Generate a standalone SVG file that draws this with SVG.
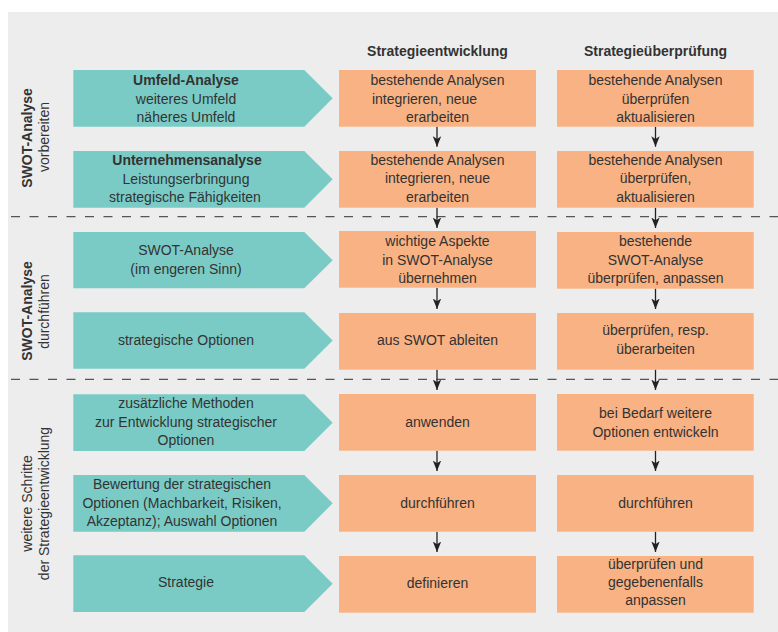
<svg xmlns="http://www.w3.org/2000/svg" width="778" height="632" viewBox="0 0 778 632">
<style>
text{font-family:"Liberation Sans",Arial,sans-serif;font-size:14px;fill:#333;text-anchor:middle}
.b{font-weight:bold}
.teal{fill:#7acbc5}
.org{fill:#f8b283}
.dash{stroke:#555;stroke-width:1.3;stroke-dasharray:9 9.5;fill:none}
.con{stroke:#222;stroke-width:1.3;fill:none;marker-end:url(#ah)}
</style>
<defs>
<marker id="ah" viewBox="0 -4.5 11 9" markerUnits="userSpaceOnUse" markerWidth="11" markerHeight="9" refX="10.5" refY="0" orient="auto">
<path d="M0,-4.2 L10.5,0 L0,4.2 L2.8,0 Z" fill="#222"/>
</marker>
</defs>
<rect x="8" y="12" width="770" height="620" fill="#ededed"/>
<g id="dividers">
<line class="dash" x1="11" y1="216.7" x2="778" y2="216.7"/>
<line class="dash" x1="11" y1="379.3" x2="778" y2="379.3"/>
</g>
<g id="headers">
<text class="b" x="437.5" y="56">Strategieentwicklung</text>
<text class="b" x="655.5" y="56">Strategieüberprüfung</text>
</g>
<g id="section-labels">
<text class="b" transform="translate(32,138) rotate(-90)">SWOT-Analyse</text>
<text transform="translate(49,137) rotate(-90)">vorbereiten</text>
<text class="b" transform="translate(32,311) rotate(-90)">SWOT-Analyse</text>
<text transform="translate(49,311.5) rotate(-90)">durchführen</text>
<text transform="translate(32,503.5) rotate(-90)">weitere Schritte</text>
<text transform="translate(49,503.5) rotate(-90)">der Strategieentwicklung</text>
</g>
<g id="connectors">
<line class="con" x1="437" y1="126.7" x2="437" y2="146.7"/>
<line class="con" x1="437" y1="207.7" x2="437" y2="228"/>
<line class="con" x1="437" y1="288" x2="437" y2="309"/>
<line class="con" x1="437" y1="369.5" x2="437" y2="390"/>
<line class="con" x1="437" y1="450.7" x2="437" y2="471"/>
<line class="con" x1="437" y1="531.7" x2="437" y2="552"/>
<line class="con" x1="655.5" y1="126.7" x2="655.5" y2="146.7"/>
<line class="con" x1="655.5" y1="207.7" x2="655.5" y2="228"/>
<line class="con" x1="655.5" y1="288.5" x2="655.5" y2="309"/>
<line class="con" x1="655.5" y1="369.5" x2="655.5" y2="390"/>
<line class="con" x1="655.5" y1="450.7" x2="655.5" y2="471"/>
<line class="con" x1="655.5" y1="531.7" x2="655.5" y2="552"/>
</g>
<g id="step1">
<polygon class="teal" points="73.3,70 304.3,70 332.7,98.3 304.3,126.7 73.3,126.7"/>
<text class="b" x="186" y="85">Umfeld-Analyse</text>
<text x="186" y="104">weiteres Umfeld</text>
<text x="186" y="122">näheres Umfeld</text>
</g>
<g id="step2">
<polygon class="teal" points="73.3,151 304.3,151 332.7,179.3 304.3,207.7 73.3,207.7"/>
<text class="b" x="187" y="165">Unternehmensanalyse</text>
<text x="186" y="183.5">Leistungserbringung</text>
<text x="185" y="202">strategische Fähigkeiten</text>
</g>
<g id="step3">
<polygon class="teal" points="73.3,232 304.3,232 332.7,260.2 304.3,288.3 73.3,288.3"/>
<text x="186" y="255">SWOT-Analyse</text>
<text x="186" y="273.5">(im engeren Sinn)</text>
</g>
<g id="step4">
<polygon class="teal" points="73.3,312.3 304.3,312.3 332.7,340.5 304.3,368.7 73.3,368.7"/>
<text x="186" y="345">strategische Optionen</text>
</g>
<g id="step5">
<polygon class="teal" points="73.3,394.3 304.3,394.3 332.7,422.7 304.3,451 73.3,451"/>
<text x="186" y="408">zusätzliche Methoden</text>
<text x="186" y="426.5">zur Entwicklung strategischer</text>
<text x="186" y="445">Optionen</text>
</g>
<g id="step6">
<polygon class="teal" points="73.3,475 304.3,475 332.7,503.3 304.3,531.7 73.3,531.7"/>
<text x="182" y="488.5">Bewertung der strategischen</text>
<text x="182" y="507.5">Optionen (Machbarkeit, Risiken,</text>
<text x="182" y="525.5">Akzeptanz); Auswahl Optionen</text>
</g>
<g id="step7">
<polygon class="teal" points="73.3,555.3 304.3,555.3 332.7,583.7 304.3,612 73.3,612"/>
<text x="186" y="587">Strategie</text>
</g>
<g id="dev1">
<rect class="org" x="339" y="70" width="197" height="56.7"/>
<text x="437.5" y="85">bestehende Analysen</text>
<text x="424.5" y="104">integrieren, neue</text>
<text x="437.5" y="122">erarbeiten</text>
</g>
<g id="dev2">
<rect class="org" x="339" y="151" width="197" height="56.7"/>
<text x="437.5" y="164.5">bestehende Analysen</text>
<text x="437.5" y="183.3">integrieren, neue</text>
<text x="437.5" y="201.7">erarbeiten</text>
</g>
<g id="dev3">
<rect class="org" x="339" y="231" width="197" height="56.7"/>
<text x="437.5" y="246">wichtige Aspekte</text>
<text x="437.5" y="264.5">in SWOT-Analyse</text>
<text x="437.5" y="283">übernehmen</text>
</g>
<g id="dev4">
<rect class="org" x="339" y="313" width="197" height="56.7"/>
<text x="437.5" y="345">aus SWOT ableiten</text>
</g>
<g id="dev5">
<rect class="org" x="339" y="394" width="197" height="56.7"/>
<text x="437.5" y="427">anwenden</text>
</g>
<g id="dev6">
<rect class="org" x="339" y="475" width="197" height="56.7"/>
<text x="437.5" y="507.7">durchführen</text>
</g>
<g id="dev7">
<rect class="org" x="339" y="556" width="197" height="56.7"/>
<text x="437.5" y="587.5">definieren</text>
</g>
<g id="rev1">
<rect class="org" x="557" y="70" width="196.7" height="56.7"/>
<text x="655.5" y="85">bestehende Analysen</text>
<text x="655.5" y="104">überprüfen</text>
<text x="655.5" y="122">aktualisieren</text>
</g>
<g id="rev2">
<rect class="org" x="557" y="151" width="196.7" height="56.7"/>
<text x="655.5" y="164.5">bestehende Analysen</text>
<text x="655.5" y="183.3">überprüfen,</text>
<text x="655.5" y="201.7">aktualisieren</text>
</g>
<g id="rev3">
<rect class="org" x="557" y="232" width="196.7" height="56.7"/>
<text x="655.5" y="246">bestehende</text>
<text x="655.5" y="264.5">SWOT-Analyse</text>
<text x="655.5" y="283">überprüfen, anpassen</text>
</g>
<g id="rev4">
<rect class="org" x="557" y="313" width="196.7" height="56.7"/>
<text x="655.5" y="335">überprüfen, resp.</text>
<text x="655.5" y="353.5">überarbeiten</text>
</g>
<g id="rev5">
<rect class="org" x="557" y="394" width="196.7" height="56.7"/>
<text x="655.5" y="418">bei Bedarf weitere</text>
<text x="655.5" y="436.7">Optionen entwickeln</text>
</g>
<g id="rev6">
<rect class="org" x="557" y="475" width="196.7" height="56.7"/>
<text x="655.5" y="507.7">durchführen</text>
</g>
<g id="rev7">
<rect class="org" x="557" y="556" width="196.7" height="56.7"/>
<text x="655.5" y="568.5">überprüfen und</text>
<text x="655.5" y="587">gegebenenfalls</text>
<text x="655.5" y="605">anpassen</text>
</g>
</svg>
